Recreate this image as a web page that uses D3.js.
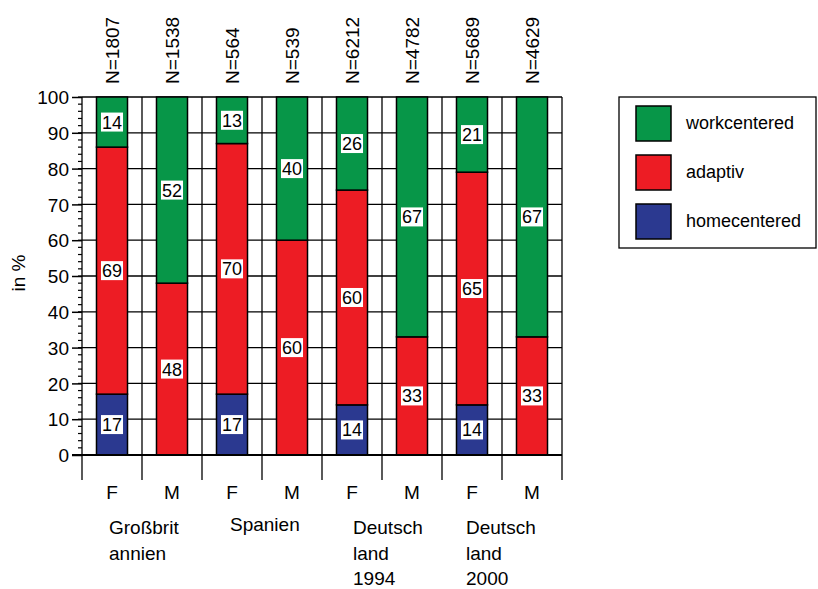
<!doctype html>
<html>
<head>
<meta charset="UTF-8">
<title>workcentered / adaptiv / homecentered</title>
<script src="https://d3js.org/d3.v7.min.js"></script>
<style>
  body { margin: 0; background: #fff; }
  text { font-family: "Liberation Sans", Arial, sans-serif; fill: #000; }
</style>
</head>
<body>
<div id="chart"></div>
<script>
// bars (one per country x sex)
var bars = ["GB F", "GB M", "ES F", "ES M", "D94 F", "D94 M", "D00 F", "D00 M"];
var sexLabels = ["F", "M", "F", "M", "F", "M", "F", "M"];
var nLabels = ["N=1807", "N=1538", "N=564", "N=539", "N=6212", "N=4782", "N=5689", "N=4629"];
var groupLabels = [["Großbrit", "annien"], ["Spanien"], ["Deutsch", "land", "1994"], ["Deutsch", "land", "2000"]];

// series values in %, stacked from bottom
var homecentered = [17, 0, 17, 0, 14, 0, 14, 0];
var adaptiv      = [69, 48, 70, 60, 60, 33, 65, 33];
var workcentered = [14, 52, 13, 40, 26, 67, 21, 67];

var seriesNames = ["homecentered", "adaptiv", "workcentered"];
var seriesColors = { homecentered: "#2b3990", adaptiv: "#ed1c24", workcentered: "#079648" };
var yTicks = [0, 10, 20, 30, 40, 50, 60, 70, 80, 90, 100];

var W = 818, H = 589;
var svg = d3.select("#chart").append("svg").attr("width", W).attr("height", H);

var x = d3.scaleBand().domain(bars).range([82, 562]).paddingInner(0.483).paddingOuter(0.2415);
var y = d3.scaleLinear().domain([0, 100]).range([455, 97]);
var step = x.step(), bw = x.bandwidth();
var edge = function(i) { return 82 + i * step; };

// table for stacking
var table = bars.map(function(b, i) {
  return { bar: b, homecentered: homecentered[i], adaptiv: adaptiv[i], workcentered: workcentered[i] };
});
var stacked = d3.stack().keys(seriesNames)(table);

// grid
var grid = svg.append("g").attr("stroke", "#000").attr("stroke-width", 1.3);
grid.selectAll("line.h").data(yTicks).join("line")
  .attr("x1", 82).attr("x2", 562)
  .attr("y1", function(d) { return y(d); }).attr("y2", function(d) { return y(d); });
grid.selectAll("line.v").data(d3.range(bars.length + 1)).join("line")
  .attr("x1", edge).attr("x2", edge)
  .attr("y1", y(100)).attr("y2", 480);

// bars
svg.append("g").selectAll("g").data(stacked).join("g")
  .attr("fill", function(s) { return seriesColors[s.key]; })
  .selectAll("rect").data(function(s) { return s; }).join("rect")
  .attr("x", function(d) { return x(d.data.bar); })
  .attr("width", bw)
  .attr("y", function(d) { return y(d[1]); })
  .attr("height", function(d) { return y(d[0]) - y(d[1]); })
  .attr("stroke", "#000").attr("stroke-width", 1.5);

// y axis
var yAxis = svg.append("g").attr("transform", "translate(82,0)");
yAxis.call(d3.axisLeft(y).tickValues(yTicks).tickSize(10).tickPadding(3))
  .call(function(g) { g.select(".domain").remove(); });
yAxis.selectAll(".tick line").attr("stroke-width", 1.5);
yAxis.selectAll(".tick text").style("font-size", "19px").attr("dy", "0.35em");
yAxis.selectAll("line.minor").data(d3.range(0, 101, 2)).join("line")
  .attr("class", "minor")
  .attr("x1", -4).attr("x2", 0)
  .attr("y1", function(d) { return y(d); }).attr("y2", function(d) { return y(d); })
  .attr("stroke", "#000").attr("stroke-width", 1.2);
svg.append("line").attr("x1", 72).attr("x2", 562).attr("y1", y(0)).attr("y2", y(0))
  .attr("stroke", "#000").attr("stroke-width", 2.2);

svg.append("text").attr("transform", "translate(25,273) rotate(-90)")
  .attr("text-anchor", "middle").style("font-size", "19px").text("in %");

// value labels
var labels = svg.append("g");
stacked.forEach(function(s) {
  s.forEach(function(d) {
    var v = d[1] - d[0];
    if (v <= 0) return;
    var cx = x(d.data.bar) + bw / 2, cy = y((d[0] + d[1]) / 2);
    var g = labels.append("g");
    var t = g.append("text").attr("x", cx).attr("y", cy).attr("dy", "0.36em")
      .attr("text-anchor", "middle").style("font-size", "18px").text(v);
    var bb = t.node().getBBox();
    g.insert("rect", "text").attr("x", bb.x - 1).attr("y", cy - 9.5)
      .attr("width", bb.width + 2).attr("height", 19).attr("fill", "#fff");
  });
});

// N labels on top
svg.append("g").selectAll("text").data(bars).join("text")
  .attr("transform", function(d) { return "translate(" + (x(d) + bw / 2 + 7) + ",84) rotate(-90)"; })
  .style("font-size", "19px").text(function(d, i) { return nLabels[i]; });

// F / M
svg.append("g").selectAll("text").data(bars).join("text")
  .attr("x", function(d) { return x(d) + bw / 2; }).attr("y", 499)
  .attr("text-anchor", "middle").style("font-size", "19px")
  .text(function(d, i) { return sexLabels[i]; });

// country groups
var grp = svg.append("g").selectAll("text").data(groupLabels).join("text")
  .attr("y", function(d, i) { return i === 1 ? 531 : 534; })
  .attr("x", function(d, i) { return edge(i * 2) + [27, 28, 31, 24][i]; })
  .style("font-size", "19px");
grp.selectAll("tspan").data(function(d) { return d; }).join("tspan")
  .attr("x", function() { return d3.select(this.parentNode).attr("x"); })
  .attr("dy", function(d, i) { return i === 0 ? 0 : 25.5; })
  .text(function(d) { return d; });

// legend
var legend = svg.append("g");
legend.append("rect").attr("x", 619).attr("y", 97).attr("width", 197).attr("height", 151)
  .attr("fill", "none").attr("stroke", "#000").attr("stroke-width", 1.3);
var legendOrder = ["workcentered", "adaptiv", "homecentered"];
var li = legend.selectAll("g.item").data(legendOrder).join("g")
  .attr("transform", function(d, i) { return "translate(636," + (106 + i * 49) + ")"; });
li.append("rect").attr("width", 35).attr("height", 35)
  .attr("fill", function(d) { return seriesColors[d]; })
  .attr("stroke", "#000").attr("stroke-width", 1.5);
li.append("text").attr("x", 50).attr("y", 17).attr("dy", "0.35em")
  .style("font-size", "18px").text(function(d) { return d; });
</script>
</body>
</html>
